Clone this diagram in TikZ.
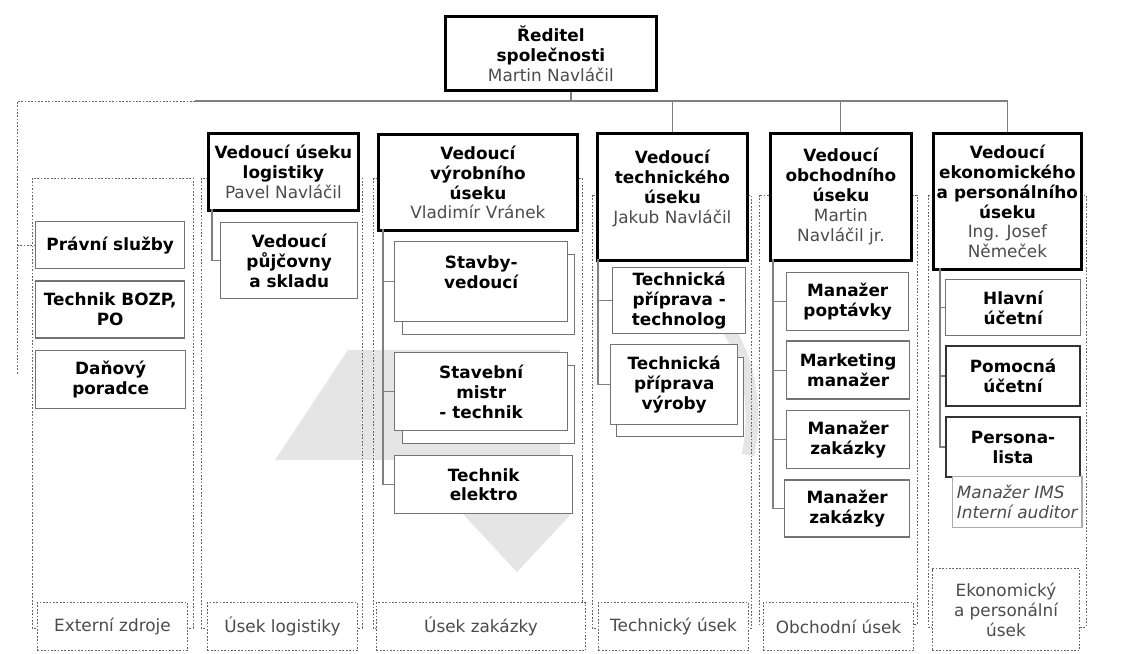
\documentclass[tikz,border=0pt]{standalone}
\usepackage{fontspec}
\setmainfont{DejaVu Sans}
\usepackage{xcolor}
\usetikzlibrary{positioning}

\definecolor{boxgray}{gray}{0.45}
\definecolor{conngray}{gray}{0.5}
\definecolor{framegray}{gray}{0.4}
\definecolor{namegray}{gray}{0.3}
\definecolor{wmgray}{gray}{0.9}
\newcommand{\osoba}[1]{{\mdseries\color{namegray}#1}}
\tikzset{wh/.style 2 args={minimum width=#1*0.025cm, minimum height=#2*0.025cm}}

\begin{document}
\begin{tikzpicture}[
  x=0.025cm, y=-0.025cm,
  node distance=0.25cm,
  head/.style={draw=black, line width=2pt, fill=white, align=center, inner sep=1pt,
    anchor=north west, font=\bfseries\fontsize{12}{14.2}\selectfont},
  sub/.style={draw=boxgray, line width=1pt, fill=white, align=center, inner sep=1pt,
    anchor=north west, font=\bfseries\fontsize{12}{14.2}\selectfont},
  subdark/.style={sub, draw=black!80, line width=1.5pt},
  back/.style={draw=boxgray, line width=1pt, fill=white, anchor=north west},
  frame/.style={draw=framegray, line width=0.7pt, dash pattern=on 1.2pt off 1.2pt},
  unit/.style={frame, fill=white, align=center, anchor=north west, inner sep=1pt,
    text=namegray, font=\fontsize{12}{14.2}\selectfont},
  conn/.style={draw=conngray, line width=0.8pt}
]
  \fill[white] (0,0) rectangle (1121,653);
  \useasboundingbox (0,0) rectangle (1121,653);

  % watermark
  \fill[wmgray] (275,460) -- (348,350) -- (560,350) -- (560,460) -- cycle;
  \fill[wmgray] (462,513) -- (572,513) -- (517,572) -- cycle;
  \draw[wmgray, line width=9pt] (700,300) .. controls (745,330) and (760,400) .. (748,455);

  % column frames
  \draw[frame] (32,178) rectangle (193,628);
  \draw[frame] (201,178) rectangle (362,628);
  \draw[frame] (373,178) rectangle (582,628);
  \draw[frame] (592,195) rectangle (751,628);
  \draw[frame] (759,195) rectangle (917,624);
  \draw[frame] (928,195) rectangle (1086,627);

  % top
  \node[head, wh={211}{74}] (red) at (444,15) {Ředitel\\společnosti\\\osoba{Martin Navláčil}};

  % heads
  \node[head, wh={150}{77}] (log) at (207,132) {Vedoucí úseku\\logistiky\\\osoba{Pavel Navláčil}};
  \node[head, wh={199}{96}] (vyr) at (377,133) {Vedoucí\\výrobního\\úseku\\\osoba{Vladimír Vránek}};
  \node[head, wh={150}{127}] (tech) at (596,132) {Vedoucí\\technického\\úseku\\\osoba{Jakub Navláčil}\\\mbox{}};
  \node[head, wh={141}{127}] (obch) at (769,132) {Vedoucí\\obchodního\\úseku\\\osoba{Martin}\\\osoba{Navláčil jr.}};
  \node[head, wh={148}{136}] (ekon) at (932,132) {Vedoucí\\ekonomického\\a personálního\\úseku\\\osoba{Ing. Josef}\\\osoba{Němeček}};

  % externi zdroje
  \node[sub, wh={149}{47}] (pravni) at (35,221) {Právní služby};
  \node[sub, wh={149}{57}, below=0.275cm of pravni.south west, anchor=north west] (bozp) {Technik BOZP,\\PO};
  \node[sub, wh={150}{58}, below=0.275cm of bozp.south west, anchor=north west] (dan) {Daňový\\poradce};

  % logistika
  \node[sub, wh={137}{76}] (pujc) at (220,222) {Vedoucí\\půjčovny\\a skladu};

  % vyroba
  \node[back, wh={172}{80}] (stavbyb) at (402,254) {};
  \node[sub, wh={173}{80}] (stavby) at (394,241) {Stavby-\\vedoucí\\\mbox{}};
  \node[back, wh={172}{78}] (mistrb) at (402,365) {};
  \node[sub, wh={173}{78}] (mistr) at (394,352) {Stavební\\mistr\\- technik};
  \node[sub, wh={178}{58}] (elektro) at (394,455) {Technik\\elektro};

  % technicky usek
  \node[sub, wh={133}{66}] (technolog) at (612,267) {Technická\\příprava -\\technolog};
  \node[back, wh={127}{79}] (vyrobyb) at (616,357) {};
  \node[sub, wh={127}{80}] (vyroby) at (610,344) {Technická\\příprava\\výroby};

  % obchodni usek
  \node[sub, wh={122}{58}] (poptavky) at (786,272) {Manažer\\poptávky};
  \node[sub, wh={123}{58}, below=0.225cm of poptavky.south west, anchor=north west] (marketing) {Marketing\\manažer};
  \node[sub, wh={123}{58}, below=0.25cm of marketing.south west, anchor=north west] (zak1) {Manažer\\zakázky};
  \node[sub, wh={125}{57}, below=0.25cm of zak1.south east, anchor=north east] (zak2) {Manažer\\zakázky};

  % ekonomicky usek
  \node[sub, wh={135}{56}] (hlavni) at (945,279) {Hlavní\\účetní};
  \node[subdark, wh={134}{60}] (pomocna) at (945,345) {Pomocná\\účetní};
  \node[subdark, wh={134}{60}] (personal) at (945,416) {Persona-\\lista};
  \node[sub, wh={127}{51}, draw=boxgray!60, align=left, font=\itshape\fontsize{12}{14.2}\selectfont,
    text=namegray, inner xsep=3pt] (ims) at (952,476) {Manažer IMS\\Interní auditor};

  % unit labels
  \node[unit, wh={150}{48}] (u1) at (37,602) {Externí zdroje};
  \node[unit, wh={150}{48}] (u2) at (207,602) {Úsek logistiky};
  \node[unit, wh={209}{48}] (u3) at (376,602) {Úsek zakázky};
  \node[unit, wh={150}{48}] (u4) at (598,602) {Technický úsek};
  \node[unit, wh={150}{48}] (u5) at (763,602) {Obchodní úsek};
  \node[unit, wh={147}{82}] (u6) at (932,568) {Ekonomický\\a personální\\úsek};

  % top connectors
  \coordinate (bus) at (571,101);
  \coordinate (busL) at (195,101);
  \coordinate (ext) at (17,101);
  \draw[conn] (red.south -| bus) -- (bus);
  \draw[conn] (busL) -- (busL -| ekon.north) -- (ekon.north);
  \draw[conn] (busL -| tech.north) -- (tech.north);
  \draw[conn] (busL -| obch.north) -- (obch.north);
  \draw[frame] (busL) -- (ext) -- (17,375);
  \draw[frame] (ext |- pravni.west) -- (pravni.west);

  % column connectors
  \coordinate (logbus) at (212,209);
  \draw[conn] (logbus) |- (pujc.west);
  \coordinate (vyrbus) at (383,229);
  \draw[conn] (vyrbus) |- (elektro.west);
  \draw[conn] (vyrbus |- stavby.west) -- (stavby.west);
  \draw[conn] (vyrbus |- mistr.west) -- (mistr.west);
  \coordinate (techbus) at (598,259);
  \draw[conn] (techbus) |- (vyroby.west);
  \draw[conn] (techbus |- technolog.west) -- (technolog.west);
  \coordinate (obchbus) at (773,259);
  \draw[conn] (obchbus) |- (zak2.west);
  \draw[conn] (obchbus |- poptavky.west) -- (poptavky.west);
  \draw[conn] (obchbus |- marketing.west) -- (marketing.west);
  \draw[conn] (obchbus |- zak1.west) -- (zak1.west);
  \coordinate (ekonbus) at (940,268);
  \draw[conn] (ekonbus) |- (personal.west);
  \draw[conn] (ekonbus |- hlavni.west) -- (hlavni.west);
  \draw[conn] (ekonbus |- pomocna.west) -- (pomocna.west);
\end{tikzpicture}
\end{document}
